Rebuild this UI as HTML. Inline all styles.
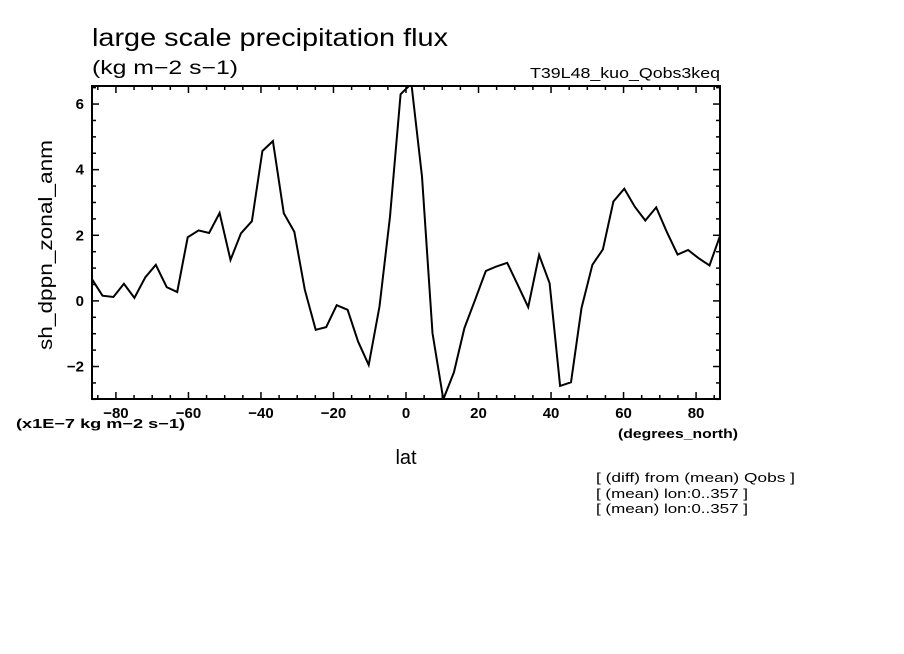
<!DOCTYPE html>
<html><head><meta charset="utf-8"><style>
body{margin:0;background:#fff;width:904px;height:654px;overflow:hidden}
svg{display:block;font-family:"Liberation Sans",sans-serif}
</style></head><body>
<svg id="chart" width="904" height="654" viewBox="0 0 904 654">
<text x="92" y="46" font-size="25" textLength="356" lengthAdjust="spacingAndGlyphs">large scale precipitation flux</text>
<text x="92" y="74" font-size="19" textLength="146" lengthAdjust="spacingAndGlyphs">(kg m−2 s−1)</text>
<text x="530" y="78" font-size="15" textLength="190" lengthAdjust="spacingAndGlyphs">T39L48_kuo_Qobs3keq</text>
<text transform="translate(52,245) rotate(-90)" font-size="19" text-anchor="middle" textLength="210" lengthAdjust="spacingAndGlyphs">sh_dppn_zonal_anm</text>
<text x="16" y="428" font-size="13" font-weight="bold" textLength="169" lengthAdjust="spacingAndGlyphs">(x1E−7 kg m−2 s−1)</text>
<text x="618" y="438" font-size="13" font-weight="bold" textLength="120" lengthAdjust="spacingAndGlyphs">(degrees_north)</text>
<text x="406" y="464" font-size="20" text-anchor="middle">lat</text>
<text x="596" y="482" font-size="13" textLength="199" lengthAdjust="spacingAndGlyphs">[ (diff) from (mean) Qobs ]</text>
<text x="596" y="498" font-size="13" textLength="152" lengthAdjust="spacingAndGlyphs">[ (mean) lon:0..357 ]</text>
<text x="596" y="513" font-size="13" textLength="152" lengthAdjust="spacingAndGlyphs">[ (mean) lon:0..357 ]</text>
<g id="axes"></g>
<clipPath id="clip"><rect x="92" y="86" width="628" height="313"/></clipPath>
<g id="series" clip-path="url(#clip)"></g>
<rect x="92" y="86" width="628" height="313" fill="none" stroke="#000" stroke-width="2"/>
</svg>
<script>
const lats = [-86.6,-83.7,-80.7,-77.8,-74.9,-71.9,-69.0,-66.0,-63.1,-60.2,-57.2,-54.3,-51.4,-48.4,-45.5,-42.5,-39.6,-36.7,-33.7,-30.8,-27.9,-24.9,-22.0,-19.1,-16.1,-13.2,-10.3,-7.3,-4.4,-1.5,1.5,4.4,7.3,10.3,13.2,16.1,19.1,22.0,24.9,27.9,30.8,33.7,36.7,39.6,42.5,45.5,48.4,51.4,54.3,57.2,60.2,63.1,66.0,69.0,71.9,74.9,77.8,80.7,83.7,86.6];
const values = [0.66,0.16,0.12,0.52,0.09,0.72,1.10,0.42,0.27,1.94,2.15,2.07,2.68,1.25,2.06,2.43,4.57,4.87,2.67,2.11,0.34,-0.88,-0.80,-0.13,-0.27,-1.24,-1.95,-0.17,2.57,6.30,6.62,3.79,-0.98,-3.0,-2.18,-0.83,0.05,0.91,1.05,1.16,0.49,-0.19,1.40,0.54,-2.59,-2.48,-0.22,1.10,1.57,3.03,3.42,2.87,2.45,2.85,2.11,1.41,1.55,1.30,1.08,1.98];
const xTicks = [-80,-60,-40,-20,0,20,40,60,80];
const yTicks = [-2,0,2,4,6];
const X0=92,X1=720,Y0=86,Y1=399,XMIN=-86.6,XMAX=86.6,YMIN=-2.99,YMAX=6.55;
const sx=v=>X0+(v-XMIN)/(XMAX-XMIN)*(X1-X0);
const sy=v=>Y1-(v-YMIN)/(YMAX-YMIN)*(Y1-Y0);
const NS="http://www.w3.org/2000/svg";
const axes=document.getElementById('axes');
function line(x1,y1,x2,y2,name){const l=document.createElementNS(NS,'line');l.setAttribute('x1',x1);l.setAttribute('y1',y1);l.setAttribute('x2',x2);l.setAttribute('y2',y2);l.setAttribute('stroke','#000');l.setAttribute('stroke-width','1.5');


axes.appendChild(l);}
for(let v=-85;v<=85;v+=5){const x=sx(v);const len=(v%20===0)?7:4;line(x,Y1,x,Y1-len,'x-tick');line(x,Y0,x,Y0+len,'x-tick');}
for(let v=-3;v<=6.5;v+=0.5){const y=sy(v);const len=(v%2===0)?7:4;line(X0,y,X0+len,y,'y-tick');line(X1,y,X1-len,y,'y-tick');}
xTicks.forEach(v=>{const t=document.createElementNS(NS,'text');t.setAttribute('x',sx(v));t.setAttribute('y',418);t.setAttribute('font-size','15');t.setAttribute('font-weight','bold');t.setAttribute('text-anchor','middle');t.textContent=(v<0?'−':'')+Math.abs(v);


axes.appendChild(t);});
yTicks.forEach(v=>{const t=document.createElementNS(NS,'text');t.setAttribute('x',84);t.setAttribute('y',sy(v)+5);t.setAttribute('font-size','15');t.setAttribute('font-weight','bold');t.setAttribute('text-anchor','end');t.textContent=(v<0?'−':'')+Math.abs(v);


axes.appendChild(t);});
const p=document.createElementNS(NS,'polyline');
p.setAttribute('points',lats.map((la,i)=>sx(la).toFixed(1)+','+sy(values[i]).toFixed(1)).join(' '));
p.setAttribute('fill','none');p.setAttribute('stroke','#000');p.setAttribute('stroke-width','2');


document.getElementById('series').appendChild(p);
</script>
</body></html>
